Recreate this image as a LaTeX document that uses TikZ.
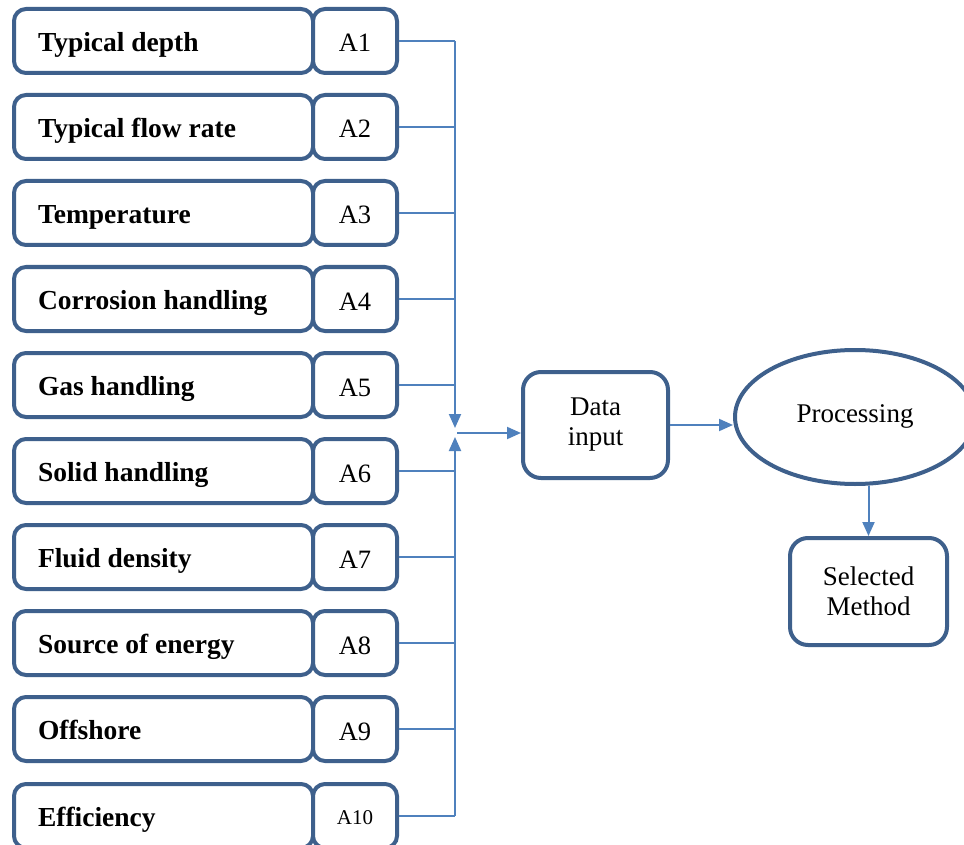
\documentclass[tikz,border=0pt]{standalone}
\usepackage{fontspec}
\setmainfont{Liberation Serif}
\usetikzlibrary{shapes.geometric,arrows.meta}
\definecolor{boxblue}{RGB}{62,96,140}
\definecolor{lineblue}{RGB}{79,129,189}
\tikzset{
  lbl/.style={draw=boxblue, line width=4pt, rounded corners=12pt, fill=white,
    minimum height=64pt, text width=251pt, inner xsep=24pt, align=flush left,
    text height=21pt, text depth=0pt,
    font=\fontsize{27.5pt}{32pt}\selectfont\bfseries, anchor=west},
  abox/.style={draw=boxblue, line width=4pt, rounded corners=12pt, fill=white,
    minimum height=64pt, minimum width=84pt, inner sep=0pt,
    text height=22pt, text depth=0pt,
    font=\fontsize{26.5pt}{30pt}\selectfont},
  bigbox/.style={draw=boxblue, line width=4pt, rounded corners=18pt, fill=white,
    align=center, inner sep=0pt, font=\fontsize{27pt}{32pt}\selectfont},
  conn/.style={draw=lineblue, line width=2pt},
  arr/.style={conn, -{Triangle[length=14pt,width=12pt]}}
}
\begin{document}
\begin{tikzpicture}[x=1pt,y=-1pt]
\clip (0,0) rectangle (964,845);
\fill[white] (0,0) rectangle (964,845);
\foreach \i/\t/\a/\yy in {1/Typical depth/A1/41,2/Typical flow rate/A2/127,3/Temperature/A3/213,
  4/Corrosion handling/A4/299,5/Gas handling/A5/385,6/Solid handling/A6/471,7/Fluid density/A7/557,
  8/Source of energy/A8/643,9/Offshore/A9/729}{
  \node[lbl] (l\i) at (12,\yy) {\t};
  \node[abox] (a\i) at (355,\yy) {\a};
}
\node[lbl] (l10) at (12,816) {Efficiency};
\node[abox, font=\fontsize{21pt}{24pt}\selectfont, text height=17pt] (a10) at (355,816) {A10};
% bus
\coordinate (bt) at (455,41);
\coordinate (tipd) at (455,428);
\coordinate (bb) at (455,816);
\coordinate (tipu) at (455,437);
\coordinate (jn) at (457,433);
\foreach \i in {1,...,10}{
  \draw[conn] (a\i.east) -- (a\i.east -| bt);
}
\draw[arr] (bt) -- (tipd);
\draw[arr] (bb) -- (tipu);
% right side
\node[bigbox, minimum width=145pt, minimum height=106pt] (data) at (595.5,425) {Data\\[-2pt]input};
\node[ellipse, draw=boxblue, line width=4pt, fill=white, minimum width=240pt, minimum height=134pt,
  inner sep=0pt, font=\fontsize{27pt}{32pt}\selectfont] (proc) at (855,417) {\raisebox{6pt}{Processing}};
\node[bigbox, minimum width=157pt, minimum height=107pt] (sel) at (868.5,591.5) {Selected\\[-2pt]Method};
\draw[arr] (jn) -- (jn -| data.west);
\draw[arr] (data.east) -- (data.east -| proc.west);
\draw[arr] (sel.north |- proc.south) -- (sel.north);
\end{tikzpicture}
\end{document}
